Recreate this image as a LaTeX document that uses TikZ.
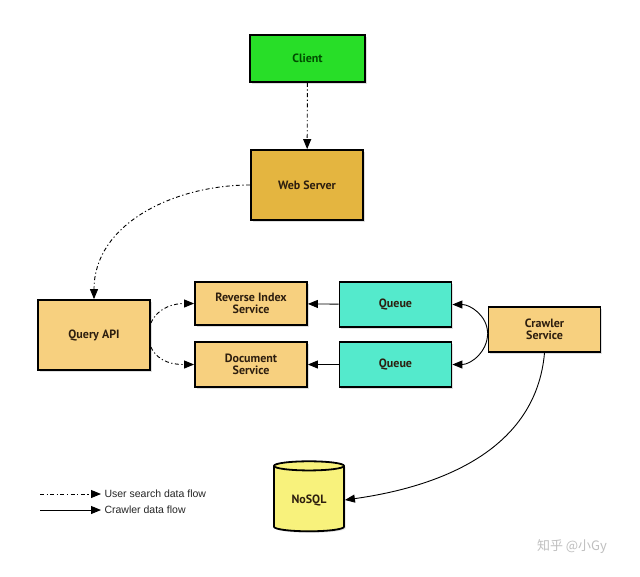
\documentclass[tikz,border=0pt]{standalone}
\usepackage{fontspec}
\setmainfont{Liberation Sans}
\newfontfamily\boxfont{PT Sans}
\newfontfamily\cjk{Noto Sans CJK SC}
\usetikzlibrary{arrows.meta,shapes.geometric,shadows}

\definecolor{clientgreen}{RGB}{40,222,40}
\definecolor{webgold}{RGB}{228,181,64}
\definecolor{svcgold}{RGB}{247,208,127}
\definecolor{queueteal}{RGB}{84,234,204}
\definecolor{dbyellow}{RGB}{248,242,124}
\definecolor{boxtext}{RGB}{45,30,15}

\begin{document}
\begin{tikzpicture}[x=1pt, y=-1pt,
        svc/.style={draw, line width=1.8pt, fill=svcgold, minimum width=112pt, minimum height=45pt, align=center, text=boxtext, font=\boxfont\bfseries\fontsize{12}{12.5}\selectfont, drop shadow={opacity=0.25, shadow xshift=1.5pt, shadow yshift=-1.5pt}},
        bigsvc/.style={svc, minimum height=70pt},
        queuebox/.style={svc, fill=queueteal},
        userflow/.style={-{Triangle[length=10pt,width=8pt]}, line width=0.9pt, dash pattern=on 4pt off 2.5pt on 1.2pt off 2.5pt},
        crawlflow/.style={-{Triangle[length=10pt,width=8pt]}, line width=0.9pt}
      ]
      \useasboundingbox[fill=white] (0,0) rectangle (640,576);

      \node[svc, fill=clientgreen, minimum width=115pt, minimum height=47pt, text=black!70!green] (client) at (307.5,58.5) {Client};
      \node[bigsvc, fill=webgold] (websrv) at (307,185) {Web Server};
      \node[bigsvc] (queryapi) at (94,335) {Query API};
      \node[svc, minimum height=43pt] (revidx) at (251,303.5) {Reverse Index\\Service};
      \node[svc] (docsvc) at (251,364.5) {Document\\Service};
      \node[queuebox] (queuea) at (395.5,304.5) {Queue};
      \node[queuebox] (queueb) at (395.5,364.5) {Queue};
      \node[svc] (crawler) at (544.5,329.5) {Crawler\\Service};
      \node[cylinder, shape border rotate=90, aspect=0.22, draw, line width=1.8pt, fill=dbyellow, minimum width=70pt, minimum height=70pt, text=boxtext, font=\boxfont\bfseries\fontsize{12}{12.5}\selectfont, drop shadow={opacity=0.25, shadow xshift=1.5pt, shadow yshift=-1.5pt}] (nosql) at (309,500) {NoSQL};

      \draw[userflow] (client) -- (websrv);
      \draw[userflow] (websrv.west) to[out=180,in=90] (queryapi.north);
      \draw[userflow] ([yshift=12pt]queryapi.east) to[out=65,in=180] (revidx.west);
      \draw[userflow] ([yshift=-12pt]queryapi.east) to[out=-65,in=180] (docsvc.west);
      \draw[crawlflow] (queuea) -- (revidx);
      \draw[crawlflow] (queueb) -- (docsvc);
      \draw[crawlflow] ([yshift=-4pt]crawler.west) to[out=90,in=0] (queuea.east);
      \draw[crawlflow] ([yshift=-4pt]crawler.west) to[out=-90,in=0] (queueb.east);
      \draw[crawlflow] (crawler.south) to[out=-95,in=8] (nosql.east);

      % legend
      \coordinate (lgua) at (40,494);
      \coordinate (lgca) at (40,510);
      \node[anchor=west, font=\fontsize{10.5}{12}\selectfont, text=black!85] (lgutext) at (101,494) {User search data flow};
      \node[anchor=west, font=\fontsize{10.5}{12}\selectfont, text=black!85] (lgctext) at (101,510) {Crawler data flow};
      \draw[userflow] (lgua) -- (lgutext.west);
      \draw[crawlflow] (lgca) -- (lgctext.west);

      \node[font=\cjk\fontsize{13}{15}\selectfont, text=black!25] (mark) at (572,547) {知乎 @小Gy};
    \end{tikzpicture}
\end{document}
